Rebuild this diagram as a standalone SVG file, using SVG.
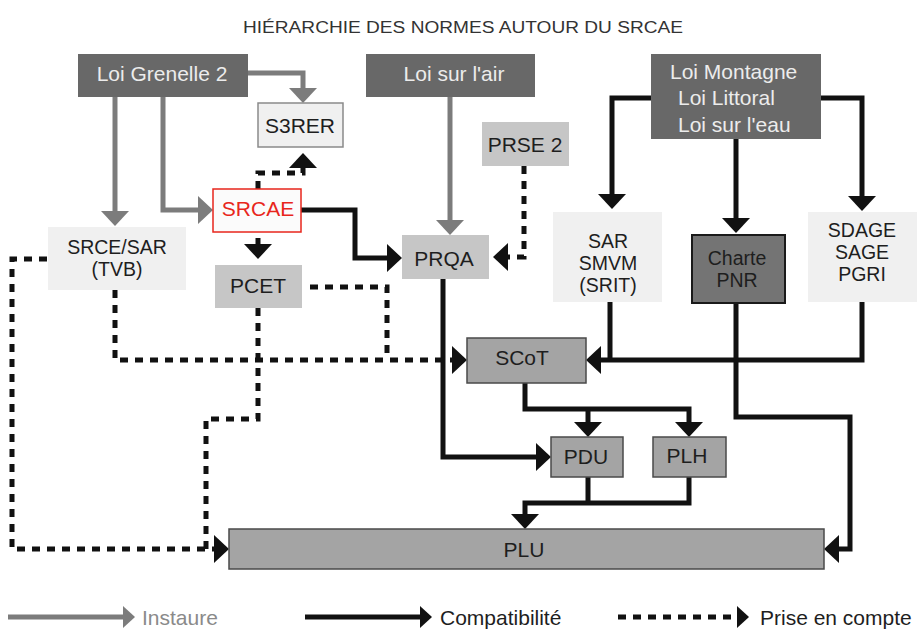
<svg xmlns="http://www.w3.org/2000/svg" width="920" height="629" viewBox="0 0 920 629">
<defs>
<style>
.t{font-family:"Liberation Sans",Arial,sans-serif;font-size:21px;text-anchor:middle;fill:#1e1e1e}
.m{font-size:19.5px}
.s{text-anchor:start}
.tw{fill:#ececec}
.dark{fill:#686868}
.light{fill:#f0f0f0}
.mid{fill:#c6c6c6}
.gr{fill:#a4a4a4;stroke:#4a4a4a;stroke-width:1.5}
.inst{fill:none;stroke:#7c7c7c;stroke-width:5}
.comp{fill:none;stroke:#111;stroke-width:5}
.pec{fill:none;stroke:#111;stroke-width:5;stroke-dasharray:8 7}
</style>
<marker id="ag" markerUnits="userSpaceOnUse" markerWidth="16" markerHeight="28" viewBox="0 0 16 28" refX="1" refY="14" orient="auto"><path d="M0,0 L15,14 L0,28 z" fill="#7c7c7c"/></marker>
<marker id="ab" markerUnits="userSpaceOnUse" markerWidth="16" markerHeight="28" viewBox="0 0 16 28" refX="1" refY="14" orient="auto"><path d="M0,0 L15,14 L0,28 z" fill="#111"/></marker>
<marker id="lg" markerUnits="userSpaceOnUse" markerWidth="13" markerHeight="22" viewBox="0 0 13 22" refX="1" refY="11" orient="auto"><path d="M0,0 L12,11 L0,22 z" fill="#7c7c7c"/></marker>
<marker id="lb" markerUnits="userSpaceOnUse" markerWidth="13" markerHeight="22" viewBox="0 0 13 22" refX="1" refY="11" orient="auto"><path d="M0,0 L12,11 L0,22 z" fill="#111"/></marker>
</defs>
<rect width="920" height="629" fill="#ffffff"/>
<text x="243" y="33" textLength="440" lengthAdjust="spacingAndGlyphs" style="font-family:'Liberation Sans',Arial,sans-serif;font-size:16px;fill:#333">HIÉRARCHIE DES NORMES AUTOUR DU SRCAE</text>

<g id="connectors">
<!-- Instaure -->
<path class="inst" d="M248,73 H303 V89" marker-end="url(#ag)"/>
<path class="inst" d="M115,97 V212" marker-end="url(#ag)"/>
<path class="inst" d="M163,97 V210 H199" marker-end="url(#ag)"/>
<path class="inst" d="M450,97 V221" marker-end="url(#ag)"/>
<!-- Compatibilite -->
<path class="comp" d="M301,210 H355 V258 H388" marker-end="url(#ab)"/>
<path class="comp" d="M258,238 V245" marker-end="url(#ab)"/>
<path class="comp" d="M443,279 V457 H537" marker-end="url(#ab)"/>
<path class="comp" d="M525,383 V409 H689 V423" marker-end="url(#ab)"/>
<path class="comp" d="M588,409 V423" marker-end="url(#ab)"/>
<path class="comp" d="M588,477 V503 M689,477 V503 H525 V515" marker-end="url(#ab)"/>
<path class="comp" d="M610,302 V360 M862,302 V360 H600" marker-end="url(#ab)"/>
<path class="comp" d="M736,303 V417 H850 V549 H838" marker-end="url(#ab)"/>
<path class="comp" d="M651,98 H612 V195" marker-end="url(#ab)"/>
<path class="comp" d="M736,139 V219" marker-end="url(#ab)"/>
<path class="comp" d="M821,98 H862 V197" marker-end="url(#ab)"/>
<!-- Prise en compte -->
<path class="pec" d="M258,189 V173 H303 V167" marker-end="url(#ab)"/>
<path class="pec" d="M524,166 V257 H507" marker-end="url(#ab)"/>
<path class="pec" d="M47,259 H12 V549 H215" marker-end="url(#ab)"/>
<path class="pec" d="M115,290 V360 H453" marker-end="url(#ab)"/>
<path class="pec" d="M310,287 H387 V360"/>
<path class="pec" d="M258,308 V419 H206 V549"/>
</g>

<g id="loi-grenelle"><rect class="dark" x="78" y="54" width="170" height="43"/><text class="t tw" x="162" y="81">Loi Grenelle 2</text></g>
<g id="loi-air"><rect class="dark" x="366" y="54" width="169" height="43"/><text class="t tw" x="454" y="81">Loi sur l'air</text></g>
<g id="loi-montagne"><rect class="dark" x="651" y="54" width="170" height="85"/>
<text class="t tw s" x="670" y="79">Loi Montagne</text><text class="t tw s" x="678" y="105">Loi Littoral</text><text class="t tw s" x="678" y="132">Loi sur l'eau</text></g>
<g id="s3rer"><rect x="258" y="103" width="85" height="44" fill="#f0f0f0" stroke="#8a8a8a" stroke-width="1.5"/><text class="t" x="300" y="133">S3RER</text></g>
<g id="srcae"><rect x="213" y="189" width="88" height="43" fill="#fbfbfb" stroke="#e8261c" stroke-width="1.5"/><text class="t" x="258" y="216" style="fill:#e8261c">SRCAE</text></g>
<g id="srce"><rect class="light" x="48" y="227" width="138" height="63"/><text class="t m" x="117" y="254">SRCE/SAR</text><text class="t m" x="117" y="276">(TVB)</text></g>
<g id="pcet"><rect class="mid" x="215" y="265" width="87" height="43"/><text class="t" x="258" y="293">PCET</text></g>
<g id="prqa"><rect class="mid" x="402" y="235" width="87" height="44"/><text class="t" x="444" y="266">PRQA</text></g>
<g id="prse"><rect class="mid" x="482" y="122" width="87" height="44"/><text class="t" x="525" y="152">PRSE 2</text></g>
<g id="sar"><rect class="light" x="553" y="212" width="109" height="90"/><text class="t m" x="608" y="248">SAR</text><text class="t m" x="608" y="270">SMVM</text><text class="t m" x="608" y="292">(SRIT)</text></g>
<g id="charte"><rect x="692" y="235" width="93" height="68" fill="#747474" stroke="#1a1a1a" stroke-width="2"/><text class="t m" x="737" y="265">Charte</text><text class="t m" x="737" y="287">PNR</text></g>
<g id="sdage"><rect class="light" x="808" y="212" width="109" height="90"/><text class="t m" x="862" y="237">SDAGE</text><text class="t m" x="862" y="259">SAGE</text><text class="t m" x="862" y="281">PGRI</text></g>
<g id="scot"><rect class="gr" x="467" y="338" width="119" height="45"/><text class="t" x="522" y="365">SCoT</text></g>
<g id="pdu"><rect class="gr" x="551" y="437" width="72" height="40"/><text class="t" x="586" y="464">PDU</text></g>
<g id="plh"><rect class="gr" x="653" y="437" width="73" height="40"/><text class="t" x="687" y="463">PLH</text></g>
<g id="plu"><rect class="gr" x="229" y="529" width="595" height="40"/><text class="t" x="524" y="557">PLU</text></g>

<g id="legend">
<path class="inst" d="M8,617 H124" marker-end="url(#lg)"/>
<text class="t s" x="142" y="625" style="fill:#8a8a8a">Instaure</text>
<path class="comp" d="M305,617 H421" marker-end="url(#lb)"/>
<text class="t s" x="440" y="625">Compatibilité</text>
<path class="pec" d="M618,617 H738" marker-end="url(#lb)"/>
<text class="t s" x="760" y="625">Prise en compte</text>
</g>
</svg>
